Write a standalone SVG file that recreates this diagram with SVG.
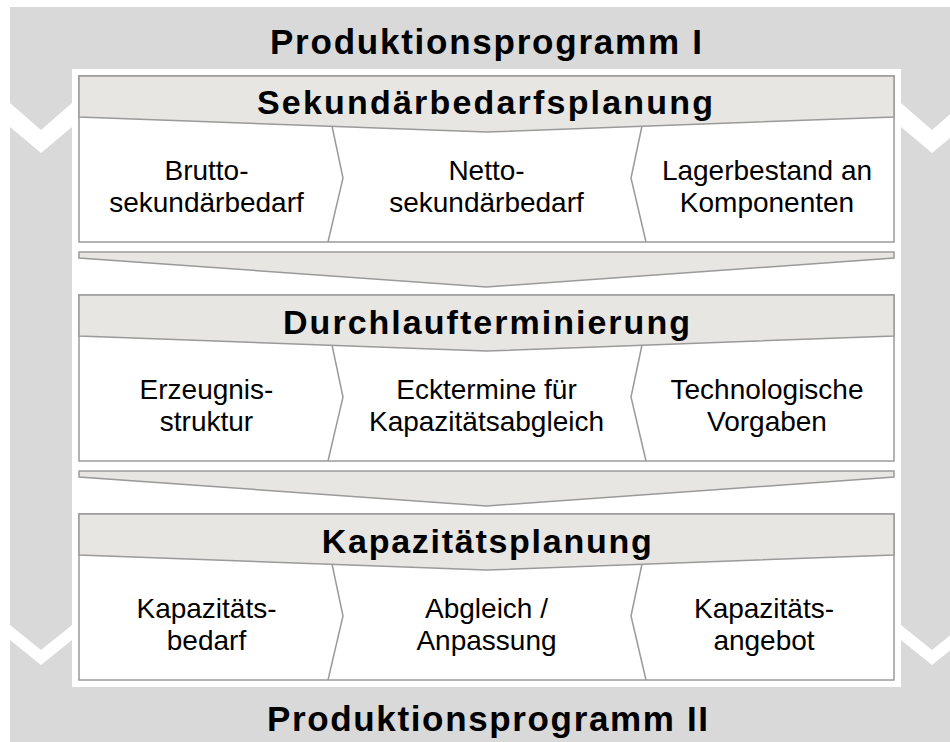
<svg xmlns="http://www.w3.org/2000/svg" width="950" height="742" viewBox="0 0 950 742">
  <style>
    .frame { fill: #d9d9d9; }
    .gap { fill: #ffffff; }
    .box { fill: #ffffff; stroke: #9a9a9a; stroke-width: 1.5; }
    .head { fill: #e8e6e3; stroke: #9a9a9a; stroke-width: 1.5; }
    .div { fill: none; stroke: #9a9a9a; stroke-width: 1.5; }
    .title { font-family: "Liberation Sans", Arial, sans-serif; font-weight: bold; font-size: 35px; fill: #000; text-anchor: middle; }
    .htext { font-family: "Liberation Sans", Arial, sans-serif; font-weight: bold; font-size: 34px; fill: #000; text-anchor: middle; }
    .ctext { font-family: "Liberation Sans", Arial, sans-serif; font-size: 28px; fill: #000; text-anchor: middle; }
  </style>

  <!-- grey program frame with white chevron gaps -->
  <g id="frame">
    <rect class="frame" x="10" y="7" width="960" height="740"/>
    <polygon class="gap" points="10,103 41,130 72,103 72,127 41,153 10,127"/>
    <polygon class="gap" points="901,103 932,130 963,103 963,127 932,153 901,127"/>
    <polygon class="gap" points="10,625 41,650 72,625 72,640 41,665 10,640"/>
    <polygon class="gap" points="901,625 932,650 963,625 963,640 932,665 901,640"/>
    <rect class="gap" x="72" y="69" width="829" height="618"/>
  </g>

  <g id="title-top">
    <text class="title" x="486" y="54" textLength="432" lengthAdjust="spacing">Produktionsprogramm I</text>
  </g>

  <!-- stage 1 -->
  <g id="sekundaerbedarfsplanung">
    <rect class="box" x="79" y="76" width="815" height="166"/>
    <polyline class="div" points="332,126 343,178 328,242"/>
    <polyline class="div" points="642,126 631,178 646,242"/>
    <polygon class="head" points="79,76 894,76 894,117 486.5,132 79,117"/>
    <text class="htext" x="485" y="114" textLength="456" lengthAdjust="spacing">Sekundärbedarfsplanung</text>
    <text class="ctext" x="206.5" y="180">Brutto-</text>
    <text class="ctext" x="206.5" y="212">sekundärbedarf</text>
    <text class="ctext" x="486.5" y="180">Netto-</text>
    <text class="ctext" x="486.5" y="212">sekundärbedarf</text>
    <text class="ctext" x="767" y="180">Lagerbestand an</text>
    <text class="ctext" x="767" y="212">Komponenten</text>
  </g>

  <!-- stage 2 -->
  <g id="durchlaufterminierung">
    <rect class="box" x="79" y="295" width="815" height="166"/>
    <polyline class="div" points="332,345 343,397 328,461"/>
    <polyline class="div" points="642,345 631,397 646,461"/>
    <polygon class="head" points="79,295 894,295 894,336 486.5,351 79,336"/>
    <text class="htext" x="486.5" y="334" textLength="407" lengthAdjust="spacing">Durchlaufterminierung</text>
    <text class="ctext" x="206.5" y="399">Erzeugnis-</text>
    <text class="ctext" x="206.5" y="431">struktur</text>
    <text class="ctext" x="486.5" y="399">Ecktermine für</text>
    <text class="ctext" x="486.5" y="431">Kapazitätsabgleich</text>
    <text class="ctext" x="767" y="399">Technologische</text>
    <text class="ctext" x="767" y="431">Vorgaben</text>
  </g>

  <!-- stage 3 -->
  <g id="kapazitaetsplanung">
    <rect class="box" x="79" y="514" width="815" height="166"/>
    <polyline class="div" points="332,564 343,616 328,680"/>
    <polyline class="div" points="642,564 631,616 646,680"/>
    <polygon class="head" points="79,514 894,514 894,555 486.5,570 79,555"/>
    <text class="htext" x="486.7" y="553" textLength="330" lengthAdjust="spacing">Kapazitätsplanung</text>
    <text class="ctext" x="206.5" y="618">Kapazitäts-</text>
    <text class="ctext" x="206.5" y="650">bedarf</text>
    <text class="ctext" x="486.5" y="618">Abgleich /</text>
    <text class="ctext" x="486.5" y="650">Anpassung</text>
    <text class="ctext" x="764" y="618">Kapazitäts-</text>
    <text class="ctext" x="764" y="650">angebot</text>
  </g>

  <!-- flow arrows between stages -->
  <g id="connectors">
    <polygon class="head" points="79,252 894,252 894,258 486.5,287 79,258"/>
    <polygon class="head" points="79,471 894,471 894,477 486.5,506 79,477"/>
  </g>

  <g id="title-bottom">
    <text class="title" x="487.5" y="731" textLength="441" lengthAdjust="spacing">Produktionsprogramm II</text>
  </g>
</svg>
